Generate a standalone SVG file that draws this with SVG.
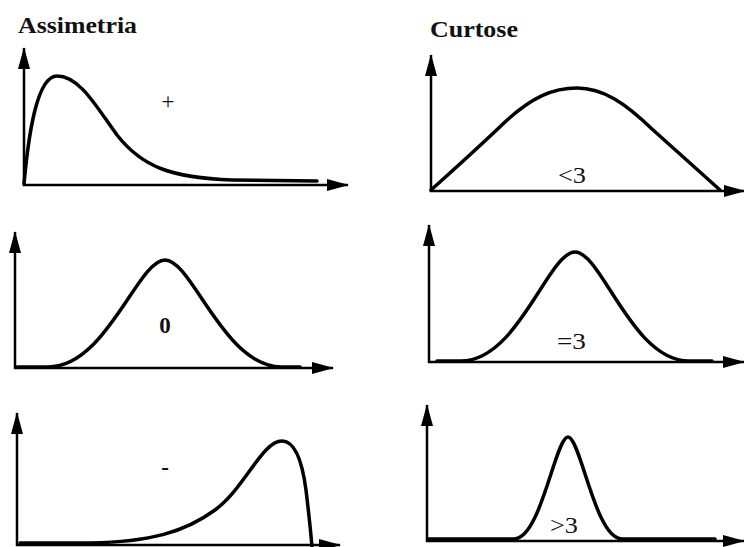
<svg xmlns="http://www.w3.org/2000/svg" width="744" height="547" viewBox="0 0 744 547">
  <defs>
    <marker id="ah" markerUnits="userSpaceOnUse" markerWidth="22" markerHeight="12" refX="21" refY="6" orient="auto">
      <path d="M0,0 L22,6 L0,12 Z" fill="#000"/>
    </marker>
    <style>
      .ax { stroke:#000; stroke-width:2.5; fill:none; marker-end:url(#ah); }
      .cv { stroke:#000; stroke-width:3.5; fill:none; stroke-linecap:round; stroke-linejoin:round; }
      .title { font-family:"Liberation Serif","Times New Roman",serif; font-weight:bold; font-size:24px; fill:#111; }
      .lbl { font-family:"Liberation Serif","Times New Roman",serif; font-size:23px; fill:#111; }
      .lblb { font-family:"Liberation Serif","Times New Roman",serif; font-size:23px; font-weight:bold; fill:#111; }
    </style>
  </defs>
  <rect width="744" height="547" fill="#fff"/>

  <text class="title" x="18" y="33" textLength="119" lengthAdjust="spacingAndGlyphs">Assimetria</text>
  <text class="title" x="430" y="37" textLength="88" lengthAdjust="spacingAndGlyphs">Curtose</text>

  <g id="skew-positive">
    <line class="ax" x1="24" y1="186" x2="24" y2="48"/>
    <line class="ax" x1="23" y1="185" x2="348" y2="185"/>
    <path class="cv" d="M24,184 C28,140 36,76 57,76 C80,76 97,108 117,135 C142,167 172,178 232,180 L317,181"/>
    <text class="lbl" x="168" y="109" text-anchor="middle">+</text>
  </g>

  <g id="skew-zero">
    <line class="ax" x1="15" y1="369" x2="15" y2="232"/>
    <line class="ax" x1="14" y1="368" x2="333" y2="368"/>
    <path class="cv" d="M17,367 L48,367 C106.5,367 137.7,260 165,260 C192.3,260 223.5,367 282,367 L300,367"/>
    <text class="lblb" x="165" y="333" text-anchor="middle">0</text>
  </g>

  <g id="skew-negative">
    <line class="ax" x1="17" y1="546" x2="17" y2="413"/>
    <line class="ax" x1="16" y1="545" x2="340" y2="545"/>
    <path class="cv" d="M20,543 L90,543 C150,542 185,532 215,510 C245,488 262,441 282,441 C295,441 302,460 306,490 C309,515 311,535 312,547"/>
    <text class="lblb" x="165" y="475" text-anchor="middle">-</text>
  </g>

  <g id="kurtosis-low">
    <line class="ax" x1="431" y1="192" x2="431" y2="55"/>
    <line class="ax" x1="430" y1="191" x2="745" y2="191"/>
    <path class="cv" d="M431,190 C450,173 480,146 505,122 C532,97 553,88 577,88 C603,88 625,103 652,129 L720,190"/>
    <text class="lbl" x="558" y="183" textLength="28" lengthAdjust="spacingAndGlyphs">&lt;3</text>
  </g>

  <g id="kurtosis-normal">
    <line class="ax" x1="429" y1="363" x2="429" y2="225"/>
    <line class="ax" x1="428" y1="362" x2="744" y2="362"/>
    <path class="cv" d="M437,361 L461,361 C518,361 548.4,252 575,252 C601.6,252 632,361 689,361 L712,361"/>
    <text class="lbl" x="557" y="349" textLength="29" lengthAdjust="spacingAndGlyphs">=3</text>
  </g>

  <g id="kurtosis-high">
    <line class="ax" x1="427" y1="542" x2="427" y2="405"/>
    <line class="ax" x1="426" y1="541" x2="744" y2="541"/>
    <path class="cv" d="M428,539 L514,539 C541,539 555.4,437 568,437 C580.6,437 595,539 622,539 L715,539"/>
    <text class="lbl" x="550" y="533" textLength="28" lengthAdjust="spacingAndGlyphs">&gt;3</text>
  </g>
</svg>
